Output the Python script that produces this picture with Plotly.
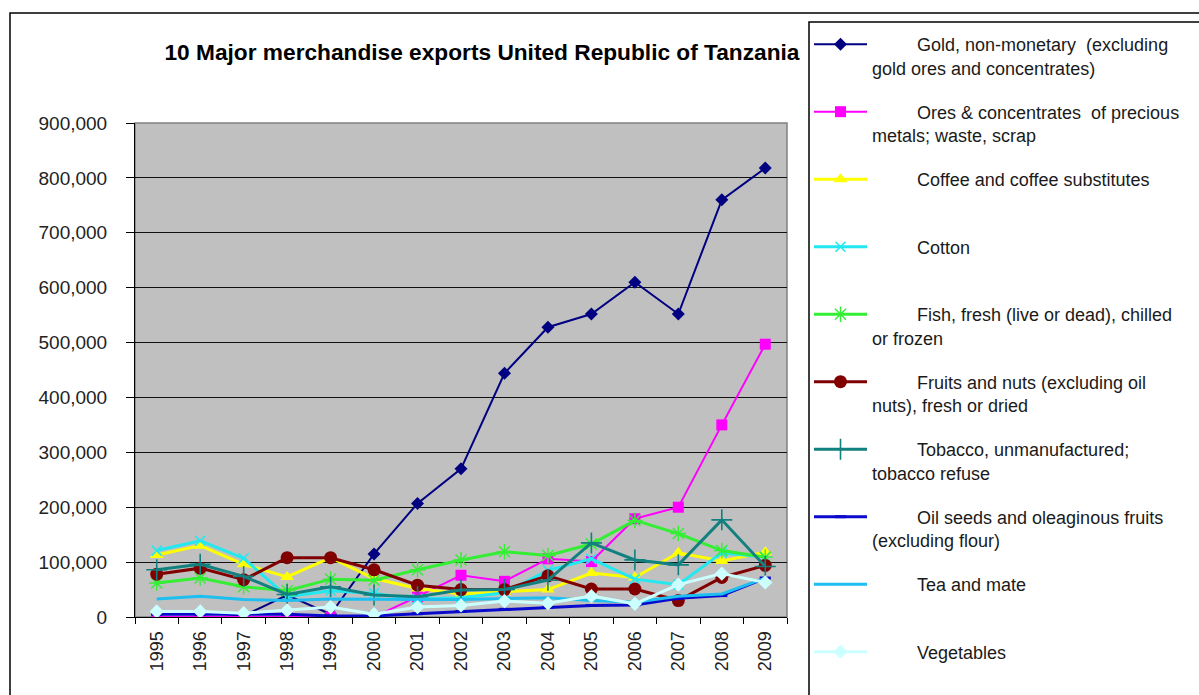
import plotly.graph_objects as go

# Export values by year
years = ["1995", "1996", "1997", "1998", "1999", "2000", "2001", "2002",
         "2003", "2004", "2005", "2006", "2007", "2008", "2009"]

gold = [10000, 10000, 2000, 40000, 5000, 115000, 207000, 270000,
        444000, 528000, 552000, 610000, 552000, 760000, 818000]
ores = [0, 0, 0, 0, 0, 0, 37000, 76000,
        65000, 106000, 101000, 179000, 200000, 350000, 497000]
coffee = [113000, 130000, 96000, 73000, 108000, 70000, 52000, 42000,
          46000, 50000, 80000, 72000, 117000, 102000, 118000]
cotton = [121000, 139000, 107000, 37000, 48000, 43000, 33000, 35000,
          44000, 85000, 106000, 69000, 59000, 117000, 109000]
fish = [62000, 71000, 55000, 48000, 69000, 67000, 86000, 104000,
        119000, 112000, 133000, 176000, 152000, 121000, 109000]
fruits = [78000, 89000, 68000, 108000, 108000, 86000, 58000, 50000,
          50000, 75000, 51000, 51000, 30000, 72000, 94000]
tobacco = [86000, 96000, 74000, 41000, 55000, 40000, 37000, 49000,
           50000, 67000, 135000, 104000, 95000, 177000, 92000]
oilseeds = [5000, 5000, 5000, 5000, 2000, 2000, 6000, 10000,
            14000, 18000, 21000, 22000, 34000, 39000, 71000]
tea = [33000, 38000, 32000, 30000, 33000, 32000, 32000, 32000,
       33000, 35000, 30000, 27000, 38000, 42000, 71000]
vegetables = [10000, 10000, 7000, 12000, 18000, 5000, 18000, 21000,
              29000, 25000, 38000, 24000, 59000, 79000, 63000]

series_names = [
    ("Gold, non-monetary  (excluding", "gold ores and concentrates)"),
    ("Ores & concentrates  of precious", "metals; waste, scrap"),
    ("Coffee and coffee substitutes", ""),
    ("Cotton", ""),
    ("Fish, fresh (live or dead), chilled", "or frozen"),
    ("Fruits and nuts (excluding oil", "nuts), fresh or dried"),
    ("Tobacco, unmanufactured;", "tobacco refuse"),
    ("Oil seeds and oleaginous fruits", "(excluding flour)"),
    ("Tea and mate", ""),
    ("Vegetables", ""),
]
series_values = [gold, ores, coffee, cotton, fish, fruits, tobacco,
                 oilseeds, tea, vegetables]

styles = [
    dict(color="#000080", width=2, symbol="diamond", size=10, mline=0),
    dict(color="#FF00FF", width=2, symbol="square", size=11, mline=0),
    dict(color="#FFFF00", width=3, symbol="triangle-up", size=12, mline=0),
    dict(color="#22E8F0", width=3, symbol="x-thin", size=10, mline=1.6),
    dict(color="#33EE33", width=3, symbol="asterisk", size=13, mline=1.4),
    dict(color="#800000", width=3, symbol="circle", size=13, mline=0),
    dict(color="#138080", width=3, symbol="cross-thin", size=15, mline=1.6),
    dict(color="#0A0ACC", width=3, symbol="line-ew", size=8, mline=3),
    dict(color="#1EBEF0", width=3, symbol=None, size=0, mline=0),
    dict(color="#CCFFFF", width=3, symbol="diamond", size=11, mline=0),
]

INDENT = "\u00a0" * 9

fig = go.Figure()
for (first, second), vals, st in zip(series_names, series_values, styles):
    label = INDENT + first + "<br>" + (second if second else "\u00a0")
    kw = dict(
        x=years, y=vals, name=label, legendgroup=first,
        line=dict(color=st["color"], width=st["width"]),
    )
    if st["symbol"]:
        kw["mode"] = "lines+markers"
        kw["marker"] = dict(symbol=st["symbol"], size=st["size"],
                            color=st["color"],
                            line=dict(color=st["color"], width=st["mline"]))
    else:
        kw["mode"] = "lines"
    fig.add_trace(go.Scatter(**kw))

# Plot area in pixels: x 135..787, y 123..617
L, R, T, B = 135, 787, 123, 617
W, H = 1199, 695


def px(x):
    return (x - L) / (R - L)


def py(y):
    return (B - y) / (B - T)


FONT = "Liberation Sans, Arial, sans-serif"

fig.update_layout(
    width=W, height=H, autosize=False,
    margin=dict(l=L, r=W - R, t=T, b=H - B),
    paper_bgcolor="white",
    plot_bgcolor="#C0C0C0",
    font=dict(family=FONT, color="#222222"),
    title=dict(
        text="<b>10 Major merchandise exports United Republic of Tanzania</b>",
        font=dict(family=FONT, size=22.7, color="#000000"),
        x=482 / W, xref="container", xanchor="center",
        y=1 - 52 / H, yref="container", yanchor="middle",
    ),
    legend=dict(
        x=809 / W, y=1 - 26 / H, xref="container", yref="container",
        xanchor="left", yanchor="top",
        font=dict(family=FONT, size=18, color="#1A1A1A"),
        itemwidth=53, valign="top", tracegroupgap=17.7,
        traceorder="grouped", maxheight=2000,
        bgcolor="rgba(0,0,0,0)", borderwidth=0,
    ),
    showlegend=True,
)

fig.update_xaxes(
    type="category", categoryorder="array", categoryarray=years,
    range=[-0.5, len(years) - 0.5],
    tickangle=-90, ticks="outside", tickson="boundaries", ticklen=6,
    tickcolor="#000000", showline=True, linecolor="#000000", linewidth=1,
    showgrid=False, tickfont=dict(size=18, color="#222222"),
    ticklabelstandoff=6,
)
fig.update_yaxes(
    range=[0, 900000], dtick=100000, tickformat=",d",
    ticks="outside", ticklen=8, tickcolor="#000000",
    showline=True, linecolor="#000000", linewidth=1,
    showgrid=True, gridcolor="#111111", gridwidth=1.2, zeroline=False,
    tickfont=dict(size=19, color="#222222"), ticklabelstandoff=15,
)

# Chart frame, legend box and plot-area frame
fig.add_shape(type="rect", xref="paper", yref="paper",
              x0=px(10), y0=py(13), x1=px(1220), y1=py(720),
              line=dict(color="#000000", width=1.5), layer="below")
fig.add_shape(type="rect", xref="paper", yref="paper",
              x0=px(809), y0=py(22), x1=px(1220), y1=py(720),
              line=dict(color="#000000", width=1.5), layer="below")
fig.add_shape(type="rect", xref="paper", yref="paper",
              x0=0, y0=0, x1=1, y1=1,
              line=dict(color="#808080", width=1.5), layer="below")

fig.write_html("out.html")
